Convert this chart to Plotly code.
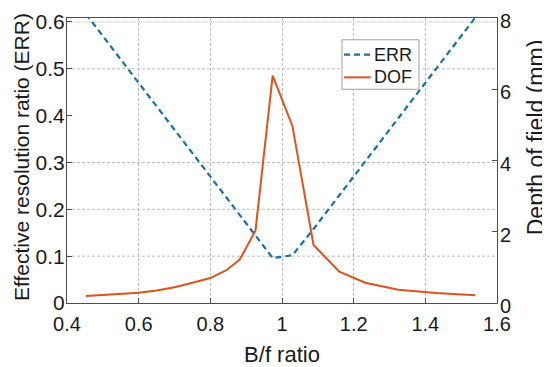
import plotly.graph_objects as go

# B/f ratio samples
bf_ratio = [0.453, 0.50, 0.55, 0.60, 0.65, 0.70, 0.75, 0.80, 0.845, 0.882,
            0.926, 0.974, 1.029, 1.088, 1.160, 1.232, 1.325, 1.43, 1.539]
# Effective resolution ratio (left axis)
err_values = [0.617, 0.570, 0.520, 0.470, 0.420, 0.370, 0.320, 0.270, 0.225, 0.188,
              0.144, 0.096, 0.102, 0.158, 0.230, 0.302, 0.395, 0.500, 0.609]
# Depth of field in mm (right axis)
dof_values = [0.20, 0.23, 0.26, 0.29, 0.35, 0.44, 0.57, 0.70, 0.92, 1.22,
              2.03, 6.38, 4.97, 1.63, 0.88, 0.57, 0.37, 0.28, 0.22]

x_ticks = [0.4, 0.6, 0.8, 1.0, 1.2, 1.4, 1.6]
x_tick_text = ["0.4", "0.6", "0.8", "1", "1.2", "1.4", "1.6"]
err_ticks = [0, 0.1, 0.2, 0.3, 0.4, 0.5, 0.6]
err_tick_text = ["0", "0.1", "0.2", "0.3", "0.4", "0.5", "0.6"]
dof_ticks = [0, 2, 4, 6, 8]
h_grid_values = [0.1, 0.2, 0.3, 0.5, 0.6]
series_names = ["ERR", "DOF"]

FONT = "Liberation Sans, Arial, sans-serif"
TXT = "#1a1a1a"
AX = "#4d4d4d"
GRID = "#bdbdbd"
ERR_LINE = dict(color="#1a6fa8", width=2.2, dash="6px,4px")
DOF_LINE = dict(color="#d9541e", width=2)

fig = go.Figure()
fig.add_trace(go.Scatter(x=bf_ratio, y=err_values, name=series_names[0], mode="lines",
                         line=ERR_LINE, yaxis="y"))
fig.add_trace(go.Scatter(x=bf_ratio, y=dof_values, name=series_names[1], mode="lines",
                         line=DOF_LINE, yaxis="y2"))

for g in h_grid_values:
    fig.add_shape(type="line", xref="paper", yref="y", x0=0, x1=1, y0=g, y1=g,
                  line=dict(color=GRID, width=1, dash="3px,2px" if g < 0.6 else "1px,1px"),
                  layer="below")

# compact legend box (MATLAB style)
fig.add_shape(type="rect", xref="paper", yref="paper", x0=0.6395, x1=0.8186,
              y0=0.75, y1=0.9236, line=dict(color="#a0a0a0", width=1),
              fillcolor="white", layer="above")
for name, style, yc in zip(series_names, [ERR_LINE, DOF_LINE], [0.8715, 0.7917]):
    fig.add_shape(type="line", xref="paper", yref="paper", x0=0.6442, x1=0.7063,
                  y0=yc, y1=yc, line=style, layer="above")
    fig.add_annotation(text=name, xref="paper", yref="paper", x=0.7086, y=yc,
                       xanchor="left", yanchor="middle", showarrow=False,
                       font=dict(size=18, color=TXT))

# y-axis titles
fig.add_annotation(text="Effective resolution ratio (ERR)", xref="paper", yref="paper",
                   x=-0.106, y=0.5139, textangle=-90, showarrow=False,
                   xanchor="center", yanchor="middle", font=dict(size=21, color=TXT))
fig.add_annotation(text="Depth of field (mm)", xref="paper", yref="paper",
                   x=1.0895, y=0.5833, textangle=-90, showarrow=False,
                   xanchor="center", yanchor="middle", font=dict(size=23, color=TXT))

# page body has an 8px margin, so the figure is shrunk and shifted accordingly
fig.update_layout(
    width=542, height=359,
    margin=dict(l=59, r=53, t=10, b=64),
    plot_bgcolor="white", paper_bgcolor="white",
    font=dict(family=FONT, size=20, color=TXT),
    showlegend=False,
    xaxis=dict(range=[0.4, 1.6], tickvals=x_ticks, ticktext=x_tick_text,
               showgrid=True, gridcolor=GRID, griddash="3px,2px", gridwidth=1,
               showline=True, linecolor=AX, linewidth=1, mirror=True,
               ticks="inside", ticklen=5, tickcolor=AX, zeroline=False,
               automargin=False, ticklabeloverflow="allow", ticklabelstandoff=3,
               title=dict(text="B/f ratio", font=dict(size=22), standoff=12),
               tickfont=dict(size=20)),
    yaxis=dict(range=[0, 0.6085], tickvals=err_ticks, ticktext=err_tick_text,
               showgrid=False, zeroline=False, automargin=False,
               showline=True, linecolor=AX, linewidth=1, ticklabeloverflow="allow",
               ticks="inside", ticklen=5, tickcolor=AX, ticklabelstandoff=-3,
               tickfont=dict(size=21)),
    yaxis2=dict(range=[0, 8], tickvals=dof_ticks, overlaying="y", side="right",
                showgrid=False, zeroline=False, automargin=False,
                showline=True, linecolor=AX, linewidth=1, ticklabeloverflow="allow",
                ticks="inside", ticklen=5, tickcolor=AX, ticklabelstandoff=-2,
                ticklabelshift=3, tickfont=dict(size=20)),
)

fig.write_html("out.html")
